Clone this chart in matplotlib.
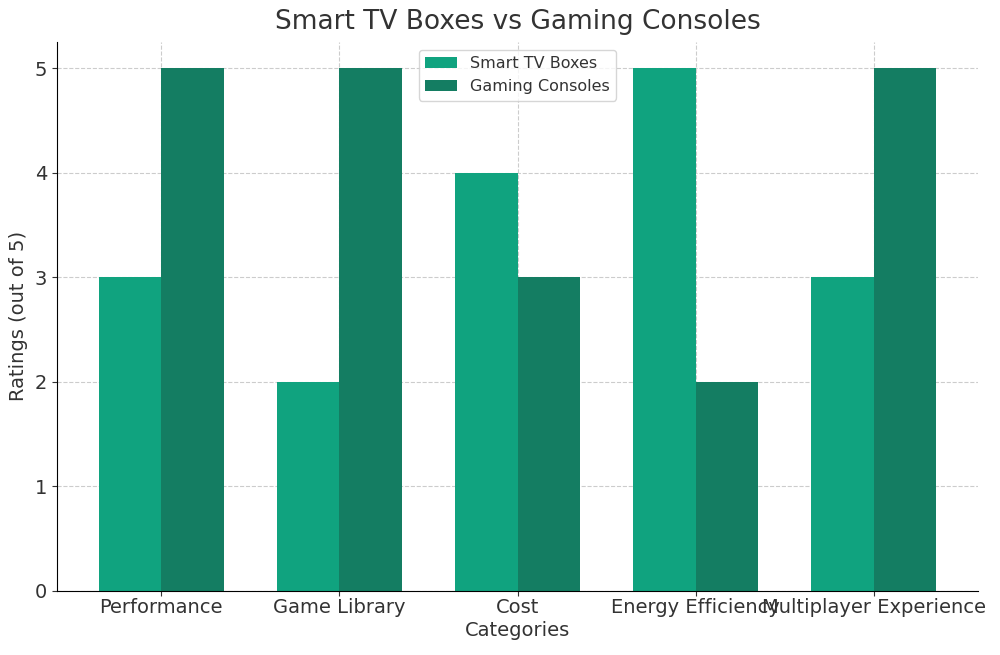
import matplotlib
matplotlib.use("Agg")
import matplotlib.pyplot as plt
import numpy as np

categories = ["Performance", "Game Library", "Cost", "Energy Efficiency", "Multiplayer Experience"]
smart_tv = [3, 2, 4, 5, 3]
consoles = [5, 5, 3, 2, 5]

x = np.arange(len(categories))
width = 0.35
text_color = "#333333"

plt.rcParams["text.color"] = text_color
plt.rcParams["axes.labelcolor"] = text_color
plt.rcParams["xtick.color"] = text_color
plt.rcParams["ytick.color"] = text_color

fig, ax = plt.subplots(figsize=(10, 6.55), dpi=100)
ax.bar(x - width / 2, smart_tv, width, label="Smart TV Boxes", color="#10a37f", zorder=2)
ax.bar(x + width / 2, consoles, width, label="Gaming Consoles", color="#147d62", zorder=2)

ax.set_title("Smart TV Boxes vs Gaming Consoles", fontsize=19, color=text_color, pad=9)
ax.set_xlabel("Categories", fontsize=14, labelpad=3)
ax.set_ylabel("Ratings (out of 5)", fontsize=14, labelpad=5)
ax.set_xticks(x)
ax.set_xticklabels(categories, fontsize=14)
ax.tick_params(axis="x", labelsize=14, pad=1.5)
ax.tick_params(axis="y", labelsize=14)
ax.set_ylim(0, 5.25)
ax.set_yticks(range(6))

ax.grid(True, linestyle="--", color="#cccccc", linewidth=0.8, zorder=0)
ax.spines["top"].set_visible(False)
ax.spines["right"].set_visible(False)
ax.legend(loc="upper center", fontsize=11.5)

plt.subplots_adjust(left=0.057, right=0.978, top=0.936, bottom=0.098)
plt.savefig("out.png")
